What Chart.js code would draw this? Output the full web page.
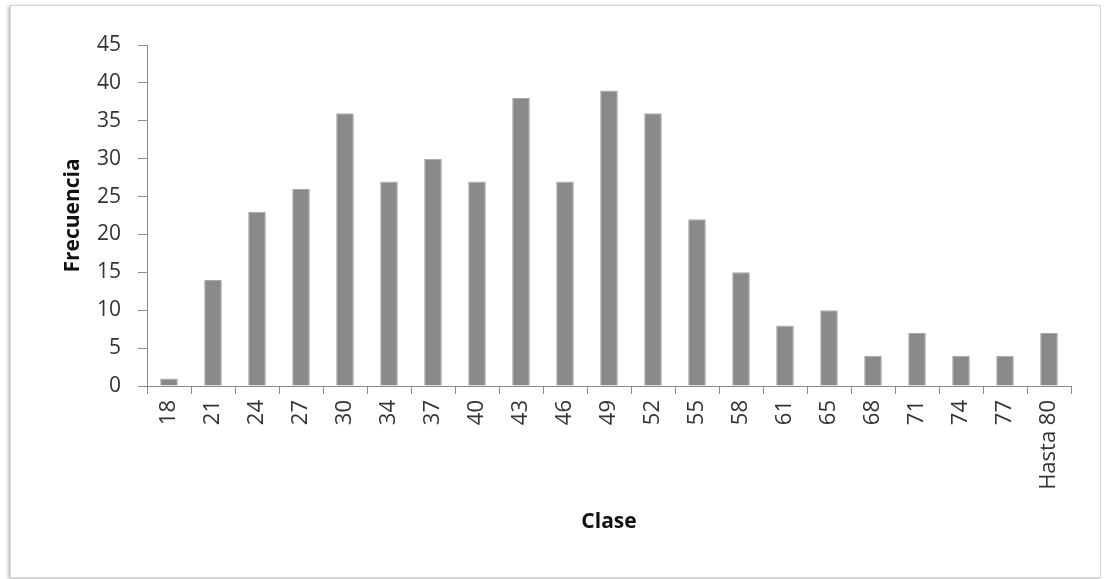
<!DOCTYPE html>
<html>
<head>
<meta charset="utf-8">
<script src="https://cdn.jsdelivr.net/npm/chart.js@4"></script>
<style>
  html, body { margin: 0; padding: 0; background: #ffffff; }
  #wrap { position: relative; width: 1108px; height: 579px; overflow: hidden; }
  #frame { position: absolute; left: 10px; top: 5px; width: 1089px; height: 571px;
           border: 1px solid #d4d4d4; box-shadow: -2px 1px 3px rgba(0,0,0,0.25); background:#fff; }
  canvas { position: absolute; left: 0; top: 0; }
</style>
</head>
<body>
<div id="wrap">
  <div id="frame"></div>
  <canvas id="c" width="1108" height="579"></canvas>
</div>
<script>
const categories = ["18","21","24","27","30","34","37","40","43","46","49","52","55","58","61","65","68","71","74","77","Hasta 80"];
const frecuencia = [1,14,23,26,36,27,30,27,38,27,39,36,22,15,8,10,4,7,4,4,7];
const yTicks = [0,5,10,15,20,25,30,35,40,45];

const FONT = "'Open Sans', 'DejaVu Sans', sans-serif";

new Chart(document.getElementById('c'), {
  type: 'bar',
  data: {
    labels: categories,
    datasets: [{
      label: 'Frecuencia',
      data: frecuencia,
      backgroundColor: '#898989',
      borderColor: '#a8a8a8',
      borderWidth: 1,
      barPercentage: 0.4,
      categoryPercentage: 1.0
    }]
  },
  options: {
    responsive: false,
    animation: false,
    devicePixelRatio: 1,
    layout: { padding: { left: 50, right: 37, top: 45, bottom: 36 } },
    plugins: { legend: { display: false }, tooltip: { enabled: false } },
    scales: {
      x: {
        grid: { display: true, drawOnChartArea: false, drawTicks: true, tickLength: 8, color: '#8c8c8c', offset: true },
        border: { display: true, color: '#8c8c8c', width: 1 },
        ticks: { color: '#333', font: { family: FONT, size: 22 }, minRotation: 90, maxRotation: 90, autoSkip: false, padding: 6 },
        title: { display: true, text: 'Clase', color: '#111', font: { family: FONT, size: 21, weight: 'bold' }, padding: { top: 0, bottom: 8 } },
        afterFit: (s) => { s.height = 579 - 386 - 36; }
      },
      y: {
        min: 0, max: 45,
        afterBuildTicks: (s) => { s.ticks = yTicks.map(v => ({ value: v })); },
        grid: { display: true, drawOnChartArea: false, drawTicks: true, tickLength: 9, color: '#8c8c8c' },
        border: { display: true, color: '#8c8c8c', width: 1 },
        ticks: { color: '#333', font: { family: FONT, size: 21 }, padding: 17 },
        title: { display: true, text: 'Frecuencia', color: '#111', font: { family: FONT, size: 21, weight: 'bold' }, padding: { top: 10, bottom: 0 } },
        afterFit: (s) => { s.width = 147 - 50; }
      }
    }
  }
});
</script>
</body>
</html>
